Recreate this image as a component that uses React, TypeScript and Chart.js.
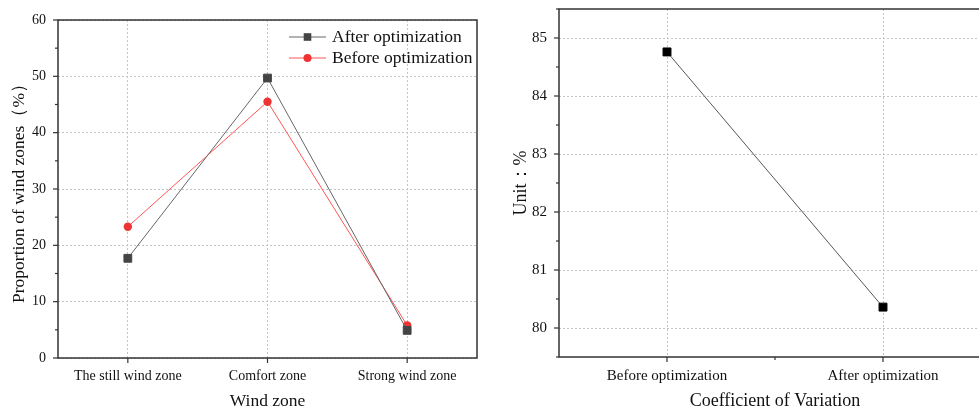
import React, { useEffect, useRef } from "react";
import { Chart, registerables } from "chart.js";

Chart.register(...registerables);

// ---- Data ----
const zoneCategories = ["The still wind zone", "Comfort zone", "Strong wind zone"];
const afterOptimization = [17.7, 49.7, 4.9];
const beforeOptimization = [23.3, 45.5, 5.8];

const cvCategories = ["Before optimization", "After optimization"];
const cvValues = [84.76, 80.36];

const FONT = "'Liberation Serif', 'Times New Roman', serif";
const FRAME = "#333333";
const GRID = "#c4c4c4";

// frame + ticks (major/minor) + optional legend
const framePlugin = {
  id: "frameTicks",
  afterDraw(chart: any, _args: any, opts: any) {
    const { ctx, chartArea: a, scales } = chart;
    const ys = scales.y;
    const xs = scales.x;
    ctx.save();
    ctx.strokeStyle = FRAME;
    ctx.lineWidth = 1.5;
    ctx.setLineDash([]);
    ctx.strokeRect(a.left, a.top, a.right - a.left, a.bottom - a.top);
    ctx.lineWidth = 1.2;
    // y ticks
    ys.ticks.forEach((t: any) => {
      const v = t.value;
      const major = Math.abs(v / opts.yMajor - Math.round(v / opts.yMajor)) < 1e-6;
      const py = ys.getPixelForValue(v);
      ctx.beginPath();
      ctx.moveTo(a.left, py);
      ctx.lineTo(a.left - (major ? 5 : 3), py);
      ctx.stroke();
    });
    // x ticks
    const n = xs.ticks.length;
    for (let i = 0; i < n; i++) {
      const px = xs.getPixelForValue(i);
      ctx.beginPath();
      ctx.moveTo(px, a.bottom);
      ctx.lineTo(px, a.bottom + 5);
      ctx.stroke();
      if (opts.xMinor && i < n - 1) {
        const mx = (px + xs.getPixelForValue(i + 1)) / 2;
        ctx.beginPath();
        ctx.moveTo(mx, a.bottom);
        ctx.lineTo(mx, a.bottom + 3);
        ctx.stroke();
      }
    }
    // legend
    if (opts.legend) {
      const L = opts.legend;
      chart.data.datasets.forEach((ds: any, i: number) => {
        const y = L.y + i * L.gap;
        ctx.strokeStyle = ds.borderColor;
        ctx.lineWidth = 1;
        ctx.beginPath();
        ctx.moveTo(L.x0, y);
        ctx.lineTo(L.x1, y);
        ctx.stroke();
        ctx.fillStyle = ds.pointBackgroundColor;
        const mx = (L.x0 + L.x1) / 2;
        if (ds.pointStyle === "rect") {
          ctx.fillRect(mx - 3.8, y - 3.8, 7.6, 7.6);
        } else {
          ctx.beginPath();
          ctx.arc(mx, y, 4, 0, Math.PI * 2);
          ctx.fill();
        }
        ctx.fillStyle = "#111";
        ctx.font = `17.5px ${FONT}`;
        ctx.textBaseline = "middle";
        ctx.textAlign = "left";
        ctx.fillText(ds.label, L.tx, y);
      });
    }
    ctx.restore();
  },
};

function makeOptions(p: {
  padRight: number; padTop: number; yWidth: number; xHeight: number;
  yMin: number; yMax: number; yStep: number; yMajor: number;
  yTitle: string; xTitle: string; tickSize: number; titleSize: number;
  yTitlePad: number; xMinor: boolean; legend?: any;
}): any {
  const isMajor = (v: number) => Math.abs(v / p.yMajor - Math.round(v / p.yMajor)) < 1e-6;
  return {
    animation: false,
    responsive: false,
    maintainAspectRatio: false,
    layout: { padding: { left: 0, top: p.padTop, right: p.padRight, bottom: 0 } },
    plugins: {
      legend: { display: false },
      tooltip: { enabled: false },
      frameTicks: { yMajor: p.yMajor, xMinor: p.xMinor, legend: p.legend },
    },
    scales: {
      x: {
        type: "category",
        offset: true,
        afterFit: (s: any) => { s.height = p.xHeight; s.paddingLeft = 0; s.paddingRight = 0; },
        grid: { display: true, drawTicks: false, color: GRID, lineWidth: 1, offset: false },
        border: { display: false, dash: [2, 2] },
        ticks: { color: "#111", font: { family: FONT, size: p.tickSize }, padding: 10, maxRotation: 0, autoSkip: false },
        title: { display: true, text: p.xTitle, color: "#111", font: { family: FONT, size: p.titleSize }, padding: { top: 0, bottom: 0 } },
      },
      y: {
        type: "linear",
        min: p.yMin,
        max: p.yMax,
        afterFit: (s: any) => { s.width = p.yWidth; s.paddingTop = 0; s.paddingBottom = 0; },
        grid: {
          drawTicks: false,
          lineWidth: 1,
          color: (c: any) => (c.tick && isMajor(c.tick.value) ? GRID : "rgba(0,0,0,0)"),
        },
        border: { display: false, dash: [2, 2] },
        ticks: {
          stepSize: p.yStep,
          autoSkip: false,
          padding: 12,
          color: "#111",
          font: { family: FONT, size: p.tickSize },
          callback: (v: any) => (isMajor(Number(v)) ? String(Math.round(Number(v))) : ""),
        },
        title: { display: true, text: p.yTitle, color: "#111", font: { family: FONT, size: p.titleSize }, padding: { top: p.yTitlePad, bottom: 0 } },
      },
    },
  };
}

function ZoneChart() {
  const ref = useRef<HTMLCanvasElement>(null);
  useEffect(() => {
    const chart = new Chart(ref.current!, {
      type: "line",
      data: {
        labels: zoneCategories,
        datasets: [
          {
            label: "After optimization",
            data: afterOptimization,
            borderColor: "#666666",
            borderWidth: 1,
            pointStyle: "rect",
            pointRadius: 5.5,
            pointBackgroundColor: "#444444",
            pointBorderColor: "#444444",
            pointBorderWidth: 1,
            tension: 0,
          },
          {
            label: "Before optimization",
            data: beforeOptimization,
            borderColor: "#ff5555",
            borderWidth: 1,
            pointStyle: "circle",
            pointRadius: 4.2,
            pointBackgroundColor: "#ee3333",
            pointBorderColor: "#ee3333",
            pointBorderWidth: 0,
            tension: 0,
          },
        ],
      },
      options: makeOptions({
        padRight: 13, padTop: 20, yWidth: 58, xHeight: 54,
        yMin: 0, yMax: 60, yStep: 5, yMajor: 10,
        yTitle: "Proportion of wind zones（%）", xTitle: "Wind zone",
        tickSize: 14, titleSize: 17.5, yTitlePad: 9, xMinor: false,
        legend: { x0: 289, x1: 326, tx: 332, y: 37, gap: 21 },
      }),
      plugins: [framePlugin],
    } as any);
    return () => chart.destroy();
  }, []);
  return <canvas ref={ref} width={490} height={412} style={{ position: "absolute", left: 0, top: 0, width: 490, height: 412 }} />;
}

function CvChart() {
  const ref = useRef<HTMLCanvasElement>(null);
  useEffect(() => {
    const chart = new Chart(ref.current!, {
      type: "line",
      data: {
        labels: cvCategories,
        datasets: [
          {
            label: "Coefficient of Variation",
            data: cvValues,
            borderColor: "#555555",
            borderWidth: 1,
            pointStyle: "rect",
            pointRadius: 5.6,
            pointBackgroundColor: "#000000",
            pointBorderColor: "#000000",
            pointBorderWidth: 1,
            tension: 0,
          },
        ],
      },
      options: makeOptions({
        padRight: 19, padTop: 9, yWidth: 69, xHeight: 55,
        yMin: 79.5, yMax: 85.5, yStep: 0.5, yMajor: 1,
        yTitle: "Unit：%", xTitle: "Coefficient of Variation",
        tickSize: 15, titleSize: 18, yTitlePad: 20, xMinor: true,
      }),
      plugins: [framePlugin],
    } as any);
    return () => chart.destroy();
  }, []);
  return <canvas ref={ref} width={520} height={412} style={{ position: "absolute", left: 490, top: 0, width: 520, height: 412 }} />;
}

export default function App() {
  return (
    <div style={{ position: "fixed", left: 0, top: 0, width: 979, height: 412, overflow: "hidden", background: "#fff" }}>
      <ZoneChart />
      <CvChart />
    </div>
  );
}
